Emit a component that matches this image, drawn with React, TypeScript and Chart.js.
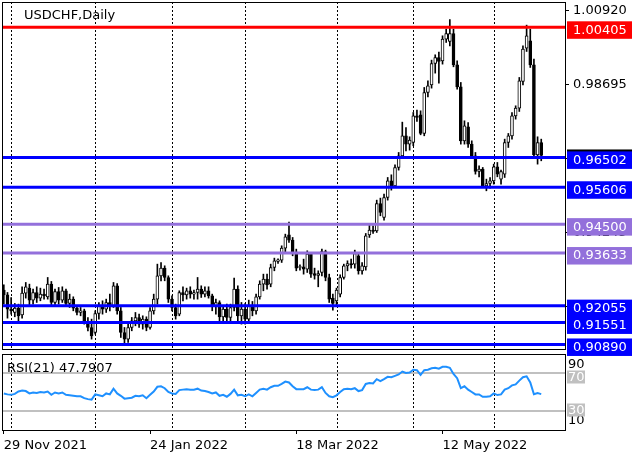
import React, { useEffect, useRef } from 'react';
import { Chart, registerables } from 'chart.js';

Chart.register(...registerables);

const dates: string[] = [
  '2021-11-29', '2021-11-30',
  '2021-12-01', '2021-12-02', '2021-12-03', '2021-12-06', '2021-12-07', '2021-12-08', '2021-12-09', '2021-12-10', '2021-12-13', '2021-12-14', '2021-12-15', '2021-12-16', '2021-12-17', '2021-12-20', '2021-12-21', '2021-12-22', '2021-12-23', '2021-12-24', '2021-12-27', '2021-12-28', '2021-12-29', '2021-12-30', '2021-12-31',
  '2022-01-03', '2022-01-04', '2022-01-05', '2022-01-06', '2022-01-07', '2022-01-10', '2022-01-11', '2022-01-12', '2022-01-13', '2022-01-14', '2022-01-17', '2022-01-18', '2022-01-19', '2022-01-20', '2022-01-21', '2022-01-24', '2022-01-25', '2022-01-26', '2022-01-27', '2022-01-28', '2022-01-31',
  '2022-02-01', '2022-02-02', '2022-02-03', '2022-02-04', '2022-02-07', '2022-02-08', '2022-02-09', '2022-02-10', '2022-02-11', '2022-02-14', '2022-02-15', '2022-02-16', '2022-02-17', '2022-02-18', '2022-02-21', '2022-02-22', '2022-02-23', '2022-02-24', '2022-02-25', '2022-02-28',
  '2022-03-01', '2022-03-02', '2022-03-03', '2022-03-04', '2022-03-07', '2022-03-08', '2022-03-09', '2022-03-10', '2022-03-11', '2022-03-13', '2022-03-14', '2022-03-15', '2022-03-16', '2022-03-17', '2022-03-18', '2022-03-20', '2022-03-21', '2022-03-22', '2022-03-23', '2022-03-24', '2022-03-25', '2022-03-28', '2022-03-29', '2022-03-30', '2022-03-31',
  '2022-04-01', '2022-04-04', '2022-04-05', '2022-04-06', '2022-04-07', '2022-04-08', '2022-04-11', '2022-04-12', '2022-04-13', '2022-04-14', '2022-04-15', '2022-04-18', '2022-04-19', '2022-04-20', '2022-04-21', '2022-04-22', '2022-04-25', '2022-04-26', '2022-04-27', '2022-04-28', '2022-04-29',
  '2022-05-02', '2022-05-03', '2022-05-04', '2022-05-05', '2022-05-06', '2022-05-09', '2022-05-10', '2022-05-11', '2022-05-12', '2022-05-13', '2022-05-16', '2022-05-17', '2022-05-18', '2022-05-19', '2022-05-20', '2022-05-23', '2022-05-24', '2022-05-25', '2022-05-26', '2022-05-27', '2022-05-30', '2022-05-31',
  '2022-06-01', '2022-06-02', '2022-06-03', '2022-06-06', '2022-06-07', '2022-06-08', '2022-06-09', '2022-06-10', '2022-06-13', '2022-06-14', '2022-06-15', '2022-06-16', '2022-06-17', '2022-06-20',
  '2022-06-21', '2022-06-22', '2022-06-23', '2022-06-24', '2022-06-27', '2022-06-28',
];

const opens: number[] = [
  0.9252, 0.9238, 0.9195, 0.9185, 0.9198, 0.9178, 0.9243, 0.9258, 0.9222, 0.9245,
  0.9228, 0.9240, 0.9232, 0.9270, 0.9215, 0.9248, 0.9222, 0.9250, 0.9212, 0.9225,
  0.9198, 0.9185, 0.9190, 0.9158, 0.9140, 0.9125, 0.9182, 0.9205, 0.9195, 0.9215,
  0.9205, 0.9265, 0.9190, 0.9125, 0.9105, 0.9140, 0.9160, 0.9170, 0.9150, 0.9165,
  0.9140, 0.9190, 0.9225, 0.9295, 0.9318, 0.9290, 0.9225, 0.9200, 0.9180, 0.9245,
  0.9238, 0.9250, 0.9240, 0.9245, 0.9255, 0.9240, 0.9250, 0.9235, 0.9205, 0.9215,
  0.9172, 0.9195, 0.9170, 0.9200, 0.9255, 0.9175, 0.9195, 0.9165, 0.9205, 0.9190,
  0.9232, 0.9270, 0.9285, 0.9270, 0.9320, 0.9338, 0.9342, 0.9378, 0.9418, 0.9402,
  0.9366, 0.9320, 0.9322, 0.9315, 0.9360, 0.9302, 0.9296, 0.9305, 0.9368, 0.9290,
  0.9228, 0.9220, 0.9240, 0.9290, 0.9325, 0.9332, 0.9330, 0.9355, 0.9310, 0.9322,
  0.9418, 0.9432, 0.9430, 0.9512, 0.9470, 0.9530, 0.9580, 0.9565, 0.9620, 0.9655,
  0.9715, 0.9690, 0.9695, 0.9775, 0.9778, 0.9722, 0.9845, 0.9868, 0.9932, 0.9950,
  0.9940, 1.0005, 0.9998, 1.0022, 0.9928, 0.9862, 0.9700, 0.9742, 0.9690, 0.9655,
  0.9608, 0.9615, 0.9565, 0.9572, 0.9580, 0.9622, 0.9585, 0.9600, 0.9695, 0.9715,
  0.9775, 0.9798, 0.9878, 0.9978, 1.0000, 0.9928, 0.9658, 0.9695,
];

const highs: number[] = [
  0.9268, 0.9245, 0.9230, 0.9212, 0.9210, 0.9262, 0.9275, 0.9270, 0.9255, 0.9262,
  0.9258, 0.9255, 0.9290, 0.9278, 0.9255, 0.9260, 0.9262, 0.9255, 0.9240, 0.9232,
  0.9205, 0.9200, 0.9195, 0.9170, 0.9165, 0.9190, 0.9215, 0.9220, 0.9225, 0.9240,
  0.9275, 0.9272, 0.9200, 0.9140, 0.9150, 0.9170, 0.9185, 0.9180, 0.9175, 0.9172,
  0.9200, 0.9240, 0.9330, 0.9335, 0.9325, 0.9295, 0.9235, 0.9210, 0.9250, 0.9262,
  0.9258, 0.9262, 0.9252, 0.9290, 0.9265, 0.9262, 0.9262, 0.9240, 0.9225, 0.9220,
  0.9205, 0.9210, 0.9210, 0.9288, 0.9265, 0.9215, 0.9212, 0.9222, 0.9218, 0.9240,
  0.9280, 0.9300, 0.9300, 0.9330, 0.9348, 0.9346, 0.9385, 0.9420, 0.9456, 0.9410,
  0.9375, 0.9328, 0.9345, 0.9370, 0.9365, 0.9318, 0.9310, 0.9375, 0.9372, 0.9300,
  0.9240, 0.9258, 0.9298, 0.9330, 0.9340, 0.9345, 0.9372, 0.9362, 0.9335, 0.9422,
  0.9448, 0.9445, 0.9522, 0.9528, 0.9540, 0.9590, 0.9598, 0.9628, 0.9665, 0.9756,
  0.9740, 0.9712, 0.9785, 0.9792, 0.9790, 0.9860, 0.9880, 0.9942, 0.9958, 0.9966,
  1.0015, 1.0035, 1.0064, 1.0035, 0.9940, 0.9875, 0.9760, 0.9755, 0.9700, 0.9665,
  0.9625, 0.9620, 0.9585, 0.9590, 0.9630, 0.9635, 0.9612, 0.9705, 0.9722, 0.9785,
  0.9805, 0.9890, 0.9985, 1.0047, 1.0035, 0.9945, 0.9712, 0.9705,
];

const lows: number[] = [
  0.9210, 0.9168, 0.9180, 0.9172, 0.9160, 0.9168, 0.9228, 0.9205, 0.9210, 0.9215,
  0.9220, 0.9225, 0.9225, 0.9205, 0.9208, 0.9210, 0.9215, 0.9205, 0.9200, 0.9190,
  0.9178, 0.9175, 0.9150, 0.9130, 0.9105, 0.9120, 0.9165, 0.9180, 0.9185, 0.9190,
  0.9200, 0.9180, 0.9110, 0.9088, 0.9095, 0.9130, 0.9145, 0.9140, 0.9135, 0.9130,
  0.9135, 0.9180, 0.9210, 0.9280, 0.9280, 0.9215, 0.9190, 0.9165, 0.9175, 0.9220,
  0.9225, 0.9228, 0.9225, 0.9225, 0.9230, 0.9232, 0.9228, 0.9190, 0.9180, 0.9160,
  0.9155, 0.9160, 0.9160, 0.9190, 0.9160, 0.9150, 0.9150, 0.9155, 0.9175, 0.9180,
  0.9225, 0.9250, 0.9255, 0.9262, 0.9310, 0.9332, 0.9335, 0.9365, 0.9395, 0.9355,
  0.9310, 0.9312, 0.9300, 0.9305, 0.9290, 0.9285, 0.9262, 0.9295, 0.9280, 0.9215,
  0.9192, 0.9205, 0.9232, 0.9285, 0.9310, 0.9318, 0.9318, 0.9300, 0.9300, 0.9312,
  0.9410, 0.9422, 0.9425, 0.9475, 0.9462, 0.9522, 0.9552, 0.9560, 0.9612, 0.9648,
  0.9670, 0.9672, 0.9685, 0.9758, 0.9718, 0.9715, 0.9832, 0.9858, 0.9903, 0.9873,
  0.9930, 0.9995, 0.9985, 0.9922, 0.9855, 0.9690, 0.9690, 0.9680, 0.9650, 0.9600,
  0.9592, 0.9560, 0.9550, 0.9558, 0.9570, 0.9592, 0.9570, 0.9590, 0.9680, 0.9705,
  0.9765, 0.9788, 0.9868, 0.9968, 0.9920, 0.9650, 0.9630, 0.9640,
];

const closes: number[] = [
  0.9238, 0.9195, 0.9190, 0.9198, 0.9175, 0.9243, 0.9262, 0.9222, 0.9245, 0.9228,
  0.9240, 0.9235, 0.9270, 0.9215, 0.9248, 0.9222, 0.9250, 0.9212, 0.9225, 0.9198,
  0.9185, 0.9190, 0.9158, 0.9140, 0.9115, 0.9182, 0.9205, 0.9195, 0.9215, 0.9205,
  0.9265, 0.9190, 0.9125, 0.9105, 0.9140, 0.9160, 0.9170, 0.9150, 0.9165, 0.9140,
  0.9190, 0.9225, 0.9295, 0.9318, 0.9290, 0.9225, 0.9200, 0.9175, 0.9245, 0.9238,
  0.9250, 0.9240, 0.9245, 0.9255, 0.9240, 0.9250, 0.9235, 0.9205, 0.9215, 0.9172,
  0.9195, 0.9170, 0.9200, 0.9255, 0.9175, 0.9195, 0.9165, 0.9205, 0.9190, 0.9232,
  0.9270, 0.9285, 0.9268, 0.9320, 0.9340, 0.9343, 0.9378, 0.9412, 0.9402, 0.9366,
  0.9318, 0.9323, 0.9315, 0.9360, 0.9300, 0.9296, 0.9302, 0.9368, 0.9290, 0.9225,
  0.9212, 0.9252, 0.9290, 0.9325, 0.9332, 0.9328, 0.9362, 0.9310, 0.9325, 0.9415,
  0.9432, 0.9428, 0.9512, 0.9485, 0.9530, 0.9580, 0.9565, 0.9620, 0.9655, 0.9715,
  0.9690, 0.9702, 0.9775, 0.9770, 0.9722, 0.9845, 0.9865, 0.9932, 0.9950, 0.9938,
  1.0005, 1.0022, 1.0022, 0.9928, 0.9862, 0.9700, 0.9745, 0.9690, 0.9655, 0.9608,
  0.9615, 0.9565, 0.9572, 0.9580, 0.9622, 0.9600, 0.9608, 0.9695, 0.9715, 0.9775,
  0.9798, 0.9880, 0.9975, 1.0015, 0.9928, 0.9658, 0.9695, 0.9656,
];

const rsiValues: number[] = [
  48.5, 47.5, 47, 48, 50.5, 51.5, 51, 48.5, 49.5, 49,
  50, 49.5, 50.5, 47, 49.5, 48.5, 49.5, 47, 46.5, 46,
  45.5, 45.5, 43.5, 42.5, 42, 47.5, 46.5, 45.5, 48.5, 47.5,
  53.5, 48.5, 46, 43, 43.5, 44, 46, 45.5, 46.5, 43.5,
  47, 50.5, 55.5, 56, 54, 50, 48.5, 48, 52, 52.5,
  53, 52.5, 52.5, 53.5, 51.5, 51, 50, 48.5, 49.5, 46,
  47, 45, 48, 52.5, 46.5, 47, 45.5, 47.5, 45.5, 49,
  52.5, 53.5, 52.5, 55, 56.5, 56.5, 58.5, 61, 60, 56,
  53, 53, 53, 55, 52.5, 52, 52.5, 55, 49, 45.5,
  44.5, 46.5, 50, 53, 53.5, 53, 54, 51, 52, 58.5,
  59.5, 59, 63.5, 61.5, 63.5, 66, 65.5, 67, 68.5, 71.5,
  70, 70.5, 73.5, 73, 68, 73, 73.5, 75, 75.5, 74.5,
  76.5, 76.5, 75.5, 69, 64.5, 54, 56, 52.5, 50, 47.5,
  47.5, 45, 45, 45.5, 48.5, 46.8, 47.5, 52.5, 54, 57,
  58, 62, 65.5, 66.5, 60, 47.6, 48.8, 47.7907,
];

const symbolTitle = 'USDCHF,Daily';
const rsiPeriod = 21;
const priceTicks: number[] = [1.0092, 0.98695, 0.9647, 0.94245, 0.9202];
const levelValues: number[] = [1.00405, 0.96502, 0.95606, 0.945, 0.93633, 0.92055, 0.91551, 0.9089];
const levelKinds: string[] = ['red', 'blue', 'blue', 'purple', 'purple', 'blue', 'blue', 'blue'];
const shownDates: string[] = ['2021-11-29', '2022-01-24', '2022-03-18', '2022-05-12'];
const rsiLevels: number[] = [70, 30];
const rsiScaleLabels: number[] = [90, 10];

const KIND_COLORS: Record<string, string> = { red: '#FF0000', blue: '#0000FF', purple: '#9370DB' };
const RSI_LABEL_SHIFT = [4, -1];
const MONTHS = ['Jan', 'Feb', 'Mar', 'Apr', 'May', 'Jun', 'Jul', 'Aug', 'Sep', 'Oct', 'Nov', 'Dec'];
const FONT = '"DejaVu Sans"';

function fmtDate(iso: string): string {
  const [y, m, d] = iso.split('-').map(Number);
  return `${d} ${MONTHS[m - 1]} ${y}`;
}

const monthStarts: number[] = dates
  .map((d, i) => (i > 0 && d.slice(5, 7) !== dates[i - 1].slice(5, 7) && i < closes.length ? i : -1))
  .filter((i) => i >= 0);
const shownIdx: number[] = shownDates.map((d) => dates.indexOf(d));

function drawSeparators(chart: any) {
  const { ctx, chartArea: a } = chart;
  const x = chart.scales.x;
  ctx.save();
  ctx.strokeStyle = '#000';
  ctx.lineWidth = 1;
  ctx.setLineDash([2, 2]);
  monthStarts.forEach((i) => {
    const px = Math.round(x.getPixelForValue(i)) + 0.5;
    ctx.beginPath();
    ctx.moveTo(px, a.top);
    ctx.lineTo(px, a.bottom);
    ctx.stroke();
  });
  ctx.restore();
}

const mainPlugin = {
  id: 'mainDecor',
  beforeDatasetsDraw(chart: any) {
    drawSeparators(chart);
  },
  afterDatasetsDraw(chart: any) {
    const { ctx, chartArea: a } = chart;
    const y = chart.scales.y;
    ctx.save();
    ctx.beginPath();
    ctx.rect(a.left, a.top, a.right - a.left, a.bottom - a.top);
    ctx.clip();
    levelValues.forEach((v, k) => {
      const py = y.getPixelForValue(v);
      ctx.strokeStyle = KIND_COLORS[levelKinds[k]];
      ctx.lineWidth = 3;
      ctx.beginPath();
      ctx.moveTo(a.left, py);
      ctx.lineTo(a.right, py);
      ctx.stroke();
    });
    ctx.restore();
  },
  afterDraw(chart: any) {
    const { ctx, chartArea: a } = chart;
    const y = chart.scales.y;
    ctx.save();
    ctx.strokeStyle = '#000';
    ctx.lineWidth = 1;
    ctx.strokeRect(a.left + 0.5, a.top + 0.5, a.right - a.left, a.bottom - a.top);
    ctx.fillStyle = '#000';
    ctx.font = `13px ${FONT}`;
    ctx.textBaseline = 'alphabetic';
    ctx.textAlign = 'left';
    ctx.fillText(symbolTitle, a.left + 22, a.top + 17);
    const box = (v: number, fill: string, textColor: string) => {
      const py = y.getPixelForValue(v);
      ctx.fillStyle = fill;
      ctx.fillRect(a.right + 2, py - 6, 65, 17.5);
      ctx.fillStyle = textColor;
      ctx.textBaseline = 'middle';
      ctx.fillText(v.toFixed(5), a.right + 8, py + 3);
    };
    box(closes[closes.length - 1], '#000000', '#FFFFFF');
    levelValues.forEach((v, k) => box(v, KIND_COLORS[levelKinds[k]], '#FFFFFF'));
    ctx.restore();
  },
};

const rsiPlugin = {
  id: 'rsiDecor',
  beforeDatasetsDraw(chart: any) {
    const { ctx, chartArea: a } = chart;
    const y = chart.scales.y;
    drawSeparators(chart);
    ctx.save();
    ctx.strokeStyle = '#C0C0C0';
    ctx.lineWidth = 2;
    rsiLevels.forEach((v) => {
      const py = y.getPixelForValue(v);
      ctx.beginPath();
      ctx.moveTo(a.left, py);
      ctx.lineTo(a.right, py);
      ctx.stroke();
    });
    ctx.restore();
  },
  afterDraw(chart: any) {
    const { ctx, chartArea: a } = chart;
    const y = chart.scales.y;
    ctx.save();
    ctx.strokeStyle = '#000';
    ctx.lineWidth = 1;
    ctx.strokeRect(a.left + 0.5, a.top + 0.5, a.right - a.left, a.bottom - a.top);
    ctx.font = `13px ${FONT}`;
    ctx.textAlign = 'left';
    ctx.textBaseline = 'alphabetic';
    ctx.fillStyle = '#000';
    ctx.fillText(`RSI(${rsiPeriod}) ${rsiValues[rsiValues.length - 1].toFixed(4)}`, a.left + 5, a.top + 17.5);
    ctx.textBaseline = 'middle';
    ctx.fillStyle = '#000';
    ctx.fillText(String(rsiScaleLabels[0]), a.right + 3, y.getPixelForValue(rsiScaleLabels[0]) + 11);
    ctx.fillText(String(rsiScaleLabels[1]), a.right + 3, y.getPixelForValue(rsiScaleLabels[1]) - 9);
    rsiLevels.forEach((v, k) => {
      const cy = y.getPixelForValue(v) + RSI_LABEL_SHIFT[k];
      ctx.fillStyle = '#C0C0C0';
      ctx.fillRect(a.right + 2, cy - 6.5, 18, 13);
      ctx.fillStyle = '#FFFFFF';
      ctx.fillText(String(v), a.right + 3, cy + 0.5);
    });
    ctx.restore();
  },
};

export default function App() {
  const mainRef = useRef<HTMLCanvasElement>(null);
  const rsiRef = useRef<HTMLCanvasElement>(null);

  useEffect(() => {
    const wicks = highs.map((h, i) => [lows[i], h]);
    const bodies = opens.map((o, i) => [Math.min(o, closes[i]), Math.max(o, closes[i])]);
    const bull = opens.map((o, i) => closes[i] >= o);

    const main = new Chart(mainRef.current as HTMLCanvasElement, {
      type: 'bar',
      data: {
        labels: dates,
        datasets: [
          {
            data: wicks as any,
            backgroundColor: '#000',
            barThickness: 1,
            grouped: false,
            order: 2,
          } as any,
          {
            data: bodies as any,
            backgroundColor: (c: any) => (bull[c.dataIndex] ? '#FFFFFF' : '#000000'),
            borderColor: '#000',
            borderWidth: 1,
            borderSkipped: false,
            barThickness: 3,
            grouped: false,
            order: 1,
          } as any,
        ],
      },
      options: {
        responsive: false,
        animation: false,
        events: [],
        layout: { padding: { left: 2, top: 2, right: 0, bottom: 108 } },
        plugins: { legend: { display: false }, tooltip: { enabled: false } },
        scales: {
          x: { type: 'category', offset: true, display: false },
          y: {
            position: 'right',
            min: 0.90754,
            max: 1.01164,
            afterBuildTicks: (s: any) => {
              s.ticks = priceTicks.map((v) => ({ value: v }));
            },
            afterFit: (s: any) => {
              s.width = 75;
              s.paddingTop = 0;
              s.paddingBottom = 0;
            },
            grid: { drawOnChartArea: false, drawTicks: true, tickLength: 4, color: '#000', tickColor: '#000' },
            border: { display: false },
            ticks: {
              color: '#000',
              padding: 4,
              font: { family: 'DejaVu Sans', size: 13 },
              callback: (v: any) => Number(v).toFixed(5),
            },
          } as any,
        },
      },
      plugins: [mainPlugin],
    });

    const rsiChart = new Chart(rsiRef.current as HTMLCanvasElement, {
      type: 'line',
      data: {
        labels: dates,
        datasets: [
          {
            data: rsiValues,
            borderColor: '#1E90FF',
            borderWidth: 2,
            pointRadius: 0,
            tension: 0,
            fill: false,
          },
        ],
      },
      options: {
        responsive: false,
        animation: false,
        events: [],
        layout: { padding: { left: 2, top: 4, right: 0, bottom: 0 } },
        plugins: { legend: { display: false }, tooltip: { enabled: false } },
        scales: {
          x: {
            type: 'category',
            offset: true,
            afterFit: (s: any) => {
              s.height = 27;
              s.paddingLeft = 0;
              s.paddingRight = 0;
            },
            grid: {
              offset: false,
              drawOnChartArea: false,
              drawTicks: true,
              tickLength: 4,
              color: 'rgba(0,0,0,0)',
              tickColor: (c: any) => (shownIdx.includes(c.index) ? '#000' : 'rgba(0,0,0,0)'),
            },
            border: { display: false },
            ticks: {
              autoSkip: false,
              maxRotation: 0,
              minRotation: 0,
              align: 'start',
              padding: 4,
              color: '#000',
              font: { family: 'DejaVu Sans', size: 13 },
              callback: (_v: any, i: number) => (shownIdx.includes(i) ? fmtDate(dates[i]) : ''),
            },
          } as any,
          y: {
            position: 'right',
            min: 10,
            max: 90,
            afterFit: (s: any) => {
              s.width = 75;
              s.paddingTop = 0;
              s.paddingBottom = 0;
            },
            ticks: { display: false },
            grid: { display: false },
            border: { display: false },
          } as any,
        },
      },
      plugins: [rsiPlugin],
    });

    return () => {
      main.destroy();
      rsiChart.destroy();
    };
  }, []);

  return (
    <div style={{ position: 'absolute', left: 0, top: 0, width: 640, height: 457, background: '#fff', overflow: 'hidden' }}>
      <canvas ref={mainRef} width={640} height={457} style={{ position: 'absolute', left: 0, top: 0 }} />
      <canvas ref={rsiRef} width={640} height={107} style={{ position: 'absolute', left: 0, top: 350 }} />
    </div>
  );
}
